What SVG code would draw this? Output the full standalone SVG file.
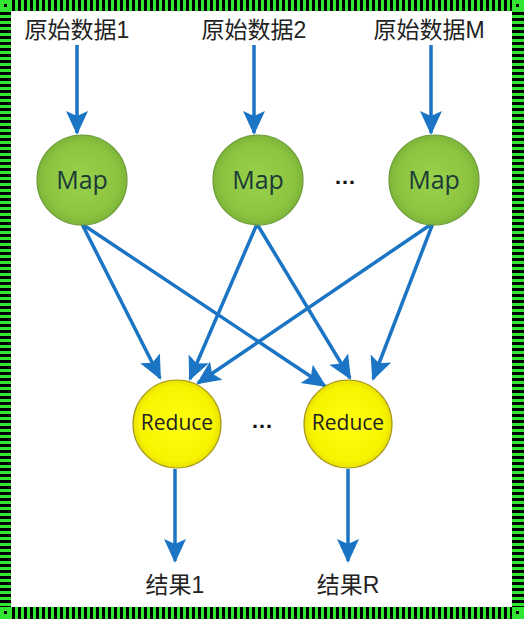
<svg xmlns="http://www.w3.org/2000/svg" width="524" height="619" viewBox="0 0 524 619">
<defs>
<style>
.lbl{font-family:"Liberation Sans","Noto Sans CJK SC",sans-serif;font-size:23px;fill:#222;text-anchor:middle}
.ntx{font-family:"Open Sans","Liberation Sans",sans-serif;text-anchor:middle;dominant-baseline:central}
.map{fill:url(#gG);stroke:#6f9e3c;stroke-width:1.2}
.red{fill:url(#gY);stroke:#a59a1e;stroke-width:1.2}
.c{stroke:#1b75c4;stroke-width:3.5;fill:none;marker-end:url(#ah)}
.dots{font-family:"Liberation Sans",sans-serif;font-size:22px;font-weight:bold;fill:#111;text-anchor:middle}
</style>
<radialGradient id="gG" cx="50%" cy="50%" r="50%"><stop offset="0" stop-color="#9ad24e"/><stop offset="0.8" stop-color="#8cc43f"/><stop offset="1" stop-color="#7fb43a"/></radialGradient>
<radialGradient id="gY" cx="50%" cy="50%" r="50%"><stop offset="0" stop-color="#ffff10"/><stop offset="0.85" stop-color="#f8f400"/><stop offset="1" stop-color="#e9e000"/></radialGradient>
<marker id="ah" markerUnits="userSpaceOnUse" markerWidth="26" markerHeight="26" viewBox="0 0 26 26" refX="22" refY="13" orient="auto"><path d="M0,2 L24,13 L0,24 L5,13 Z" fill="#1b75c4"/></marker>
<pattern id="pv" width="6" height="12" patternUnits="userSpaceOnUse" x="12"><rect width="6" height="12" fill="#33e633"/><rect x="0" width="3" height="12" fill="#000"/></pattern>
<pattern id="ph" width="12" height="6" patternUnits="userSpaceOnUse" y="12"><rect width="12" height="6" fill="#33e633"/><rect y="0" width="12" height="3" fill="#000"/></pattern>
</defs>
<rect width="524" height="619" fill="#fff"/>
<g id="frame">
<rect x="0" y="0" width="524" height="11" fill="url(#pv)"/>
<rect x="0" y="607" width="524" height="12" fill="url(#pv)"/>
<rect x="0" y="0" width="11" height="619" fill="url(#ph)"/>
<rect x="512" y="0" width="12" height="619" fill="url(#ph)"/>
<rect x="0" y="0" width="11" height="11" fill="#33e633"/><rect x="4" y="4" width="3" height="3" fill="#000"/>
<rect x="512" y="0" width="12" height="11" fill="#33e633"/><rect x="516" y="4" width="3" height="3" fill="#000"/>
<rect x="0" y="607" width="11" height="12" fill="#33e633"/><rect x="4" y="611" width="3" height="3" fill="#000"/>
<rect x="512" y="607" width="12" height="12" fill="#33e633"/><rect x="516" y="611" width="3" height="3" fill="#000"/>
</g>
<g id="connectors">
<path class="c" d="M77,45 V133"/>
<path class="c" d="M254,45 V133"/>
<path class="c" d="M431,45 V133"/>
<path class="c" d="M82,224 L160,378"/>
<path class="c" d="M82,224 L325,386"/>
<path class="c" d="M257,224 L190,379"/>
<path class="c" d="M257,224 L350,378"/>
<path class="c" d="M433,223 L198,383"/>
<path class="c" d="M433,223 L373,379"/>
<path class="c" d="M175,469 V561"/>
<path class="c" d="M348,469 V561"/>
</g>
<g id="src1"><text class="lbl" x="77" y="38">原始数据1</text></g>
<g id="src2"><text class="lbl" x="254" y="38">原始数据2</text></g>
<g id="srcM"><text class="lbl" x="429" y="38">原始数据M</text></g>
<g id="map1"><circle class="map" cx="82" cy="180" r="45"/><text class="ntx" x="82" y="179" fill="#1a3a36" font-size="25">Map</text></g>
<g id="map2"><circle class="map" cx="258" cy="180" r="45"/><text class="ntx" x="258" y="179" fill="#1a3a36" font-size="25">Map</text></g>
<g id="map3"><circle class="map" cx="434" cy="180" r="45"/><text class="ntx" x="434" y="179" fill="#1a3a36" font-size="25">Map</text></g>
<g id="dots1"><text class="dots" x="345" y="184">…</text></g>
<g id="reduce1"><circle class="red" cx="177" cy="424" r="44"/><text class="ntx" x="177" y="422" fill="#222" font-size="21">Reduce</text></g>
<g id="reduce2"><circle class="red" cx="348" cy="424" r="44"/><text class="ntx" x="348" y="422" fill="#222" font-size="21">Reduce</text></g>
<g id="dots2"><text class="dots" x="262" y="428">…</text></g>
<g id="res1"><text class="lbl" x="175" y="593">结果1</text></g>
<g id="resR"><text class="lbl" x="348" y="593">结果R</text></g>
</svg>
